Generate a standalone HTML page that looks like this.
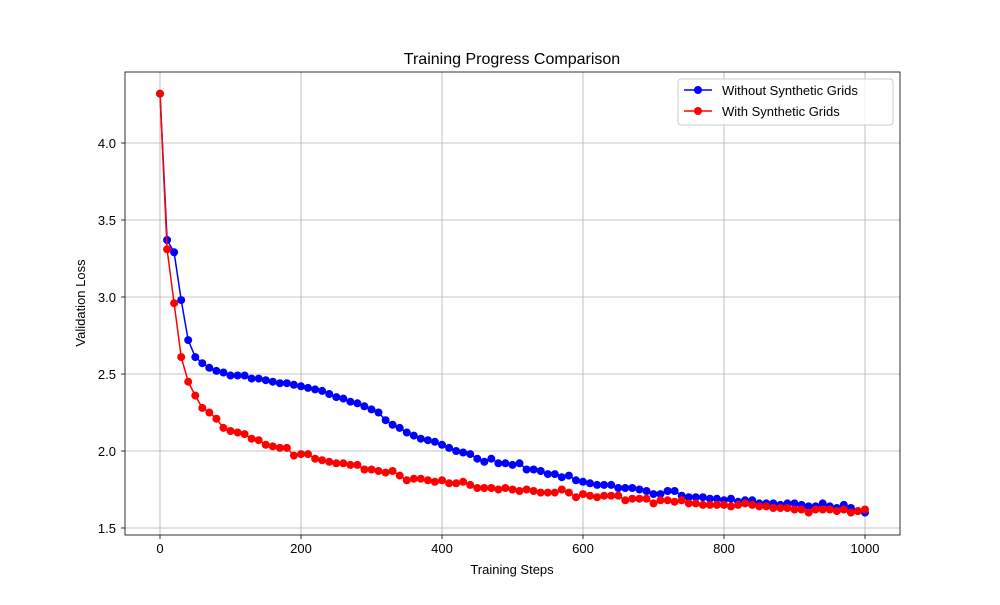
<!DOCTYPE html>
<html><head><meta charset="utf-8"><style>
body{margin:0;background:#fff}
svg text{font-family:"Liberation Sans","DejaVu Sans",sans-serif;fill:#000}
</style></head><body>
<svg id="s" width="1000" height="600" xmlns="http://www.w3.org/2000/svg">
<rect width="1000" height="600" fill="#fff"/>
<g id="grid" stroke="#b0b0b0" stroke-width="0.8"></g>
<g id="series"></g>
<rect x="125" y="72" width="775" height="463" fill="none" stroke="#000" stroke-width="0.8"/>
<g id="ticks" font-size="13"></g>
<text x="512" y="64" font-size="16" text-anchor="middle">Training Progress Comparison</text>
<text x="512" y="574" font-size="13" text-anchor="middle">Training Steps</text>
<text transform="translate(85,303) rotate(-90)" font-size="13" text-anchor="middle">Validation Loss</text>
<g>
<rect x="678" y="79" width="215" height="46" rx="3" fill="#fff" fill-opacity="0.8" stroke="#ccc"/>
<line x1="684" y1="90" x2="712" y2="90" stroke="blue" stroke-width="1.5"/><circle cx="698" cy="90" r="4" fill="blue"/>
<text x="722" y="95" font-size="13">Without Synthetic Grids</text>
<line x1="684" y1="111" x2="712" y2="111" stroke="red" stroke-width="1.5"/><circle cx="698" cy="111" r="4" fill="red"/>
<text x="722" y="116" font-size="13">With Synthetic Grids</text>
</g>
</svg>
<script>
var B=[4.32,3.37,3.29,2.98,2.72,2.61,2.57,2.54,2.52,2.51,2.49,2.49,2.49,2.47,2.47,2.46,2.45,2.44,2.44,2.43,2.42,2.41,2.40,2.39,2.37,2.35,2.34,2.32,2.31,2.29,2.27,2.25,2.20,2.17,2.15,2.12,2.10,2.08,2.07,2.06,2.04,2.02,2.00,1.99,1.98,1.95,1.93,1.95,1.92,1.92,1.91,1.92,1.88,1.88,1.87,1.85,1.85,1.83,1.84,1.81,1.80,1.79,1.78,1.78,1.78,1.76,1.76,1.76,1.75,1.74,1.72,1.72,1.74,1.74,1.71,1.70,1.70,1.70,1.69,1.69,1.68,1.69,1.67,1.68,1.68,1.66,1.66,1.66,1.65,1.66,1.66,1.65,1.64,1.64,1.66,1.64,1.63,1.65,1.63,1.61,1.60];
var R=[4.32,3.31,2.96,2.61,2.45,2.36,2.28,2.25,2.21,2.15,2.13,2.12,2.11,2.08,2.07,2.04,2.03,2.02,2.02,1.97,1.98,1.98,1.95,1.94,1.93,1.92,1.92,1.91,1.91,1.88,1.88,1.87,1.86,1.87,1.84,1.81,1.82,1.82,1.81,1.80,1.81,1.79,1.79,1.80,1.78,1.76,1.76,1.76,1.75,1.76,1.75,1.74,1.75,1.74,1.73,1.73,1.73,1.75,1.73,1.70,1.72,1.71,1.70,1.71,1.71,1.71,1.68,1.69,1.69,1.69,1.66,1.68,1.68,1.67,1.68,1.66,1.66,1.65,1.65,1.65,1.65,1.64,1.65,1.66,1.65,1.64,1.64,1.63,1.63,1.63,1.62,1.62,1.60,1.62,1.62,1.62,1.61,1.62,1.60,1.61,1.62];
function X(s){return 160+s*0.705}function Y(v){return 528-(v-1.5)*154}
var g='',t='';
for(var i=0;i<=5;i++){var x=X(i*200);g+='<line x1="'+x+'" y1="72" x2="'+x+'" y2="535"/>';
t+='<line x1="'+x+'" y1="535" x2="'+x+'" y2="539" stroke="#000" stroke-width="0.8"/><text x="'+x+'" y="553" text-anchor="middle">'+(i*200)+'</text>';}
for(var i=0;i<=5;i++){var v=1.5+i*0.5,y=Y(v);g+='<line x1="125" y1="'+y+'" x2="900" y2="'+y+'"/>';
t+='<line x1="121" y1="'+y+'" x2="125" y2="'+y+'" stroke="#000" stroke-width="0.8"/><text x="116" y="'+(y+5)+'" text-anchor="end">'+v.toFixed(1)+'</text>';}
document.getElementById('grid').innerHTML=g;document.getElementById('ticks').innerHTML=t;
var s='';[[B,'blue'],[R,'red']].forEach(function(p){var pts=p[0].map(function(v,i){return X(i*10).toFixed(1)+','+Y(v).toFixed(1)});
s+='<polyline fill="none" stroke="'+p[1]+'" stroke-width="1.5" points="'+pts.join(' ')+'"/>';
pts.forEach(function(q){var a=q.split(',');s+='<circle cx="'+a[0]+'" cy="'+a[1]+'" r="4" fill="'+p[1]+'"/>'});});
document.getElementById('series').innerHTML=s;
</script>
</body></html>
